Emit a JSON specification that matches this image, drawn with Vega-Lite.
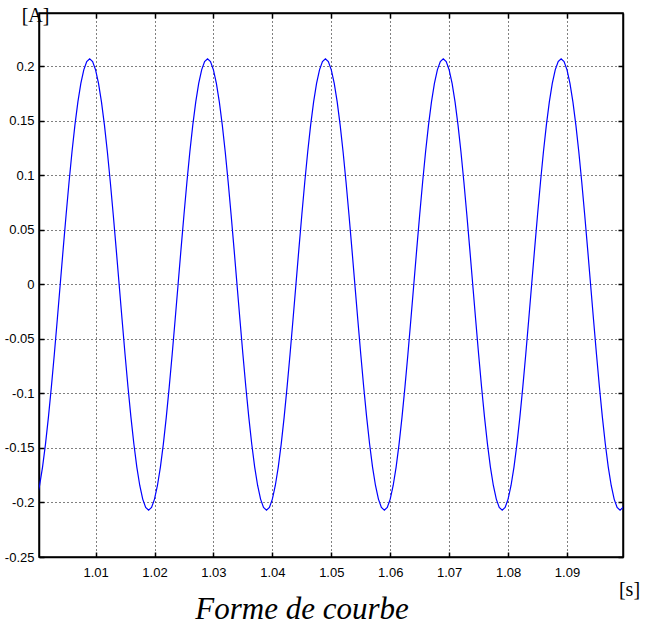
{
  "$schema": "https://vega.github.io/schema/vega-lite/v6.json",
  "autosize": "none",
  "width": 584,
  "height": 544,
  "padding": {"left": 39, "top": 13, "right": 22, "bottom": 70},
  "background": "white",
  "config": {
    "view": {"stroke": "black", "strokeWidth": 1.5},
    "axis": {
      "labelFont": "Liberation Sans",
      "labelFontSize": 13,
      "labelColor": "black",
      "domainColor": "black",
      "domainWidth": 1.5,
      "tickColor": "black",
      "tickWidth": 1.5,
      "gridColor": "black",
      "gridDash": [1, 3],
      "gridOpacity": 1,
      "gridWidth": 1
    }
  },
  "title": {
    "text": "Forme de courbe",
    "orient": "bottom",
    "anchor": "middle",
    "font": "Liberation Serif",
    "fontStyle": "italic",
    "fontWeight": "normal",
    "fontSize": 31,
    "color": "black",
    "offset": -4,
    "dx": -29
  },
  "data": {
    "values": [
      {"t": 1.0000, "a": -0.1969}, {"t": 1.0005, "a": -0.1844}, {"t": 1.0010, "a": -0.1675}, {"t": 1.0015, "a": -0.1464},
      {"t": 1.0020, "a": -0.1217}, {"t": 1.0025, "a": -0.0940}, {"t": 1.0030, "a": -0.0640}, {"t": 1.0035, "a": -0.0324},
      {"t": 1.0040, "a": 0}, {"t": 1.0045, "a": 0.0324}, {"t": 1.0050, "a": 0.0640}, {"t": 1.0055, "a": 0.0940},
      {"t": 1.0060, "a": 0.1217}, {"t": 1.0065, "a": 0.1464}, {"t": 1.0070, "a": 0.1675}, {"t": 1.0075, "a": 0.1844},
      {"t": 1.0080, "a": 0.1969}, {"t": 1.0085, "a": 0.2045}, {"t": 1.0090, "a": 0.2070}, {"t": 1.0095, "a": 0.2045},
      {"t": 1.0100, "a": 0.1969}, {"t": 1.0105, "a": 0.1844}, {"t": 1.0110, "a": 0.1675}, {"t": 1.0115, "a": 0.1464},
      {"t": 1.0120, "a": 0.1217}, {"t": 1.0125, "a": 0.0940}, {"t": 1.0130, "a": 0.0640}, {"t": 1.0135, "a": 0.0324},
      {"t": 1.0140, "a": 0}, {"t": 1.0145, "a": -0.0324}, {"t": 1.0150, "a": -0.0640}, {"t": 1.0155, "a": -0.0940},
      {"t": 1.0160, "a": -0.1217}, {"t": 1.0165, "a": -0.1464}, {"t": 1.0170, "a": -0.1675}, {"t": 1.0175, "a": -0.1844},
      {"t": 1.0180, "a": -0.1969}, {"t": 1.0185, "a": -0.2045}, {"t": 1.0190, "a": -0.2070}, {"t": 1.0195, "a": -0.2045},
      {"t": 1.0200, "a": -0.1969}, {"t": 1.0205, "a": -0.1844}, {"t": 1.0210, "a": -0.1675}, {"t": 1.0215, "a": -0.1464},
      {"t": 1.0220, "a": -0.1217}, {"t": 1.0225, "a": -0.0940}, {"t": 1.0230, "a": -0.0640}, {"t": 1.0235, "a": -0.0324},
      {"t": 1.0240, "a": 0}, {"t": 1.0245, "a": 0.0324}, {"t": 1.0250, "a": 0.0640}, {"t": 1.0255, "a": 0.0940},
      {"t": 1.0260, "a": 0.1217}, {"t": 1.0265, "a": 0.1464}, {"t": 1.0270, "a": 0.1675}, {"t": 1.0275, "a": 0.1844},
      {"t": 1.0280, "a": 0.1969}, {"t": 1.0285, "a": 0.2045}, {"t": 1.0290, "a": 0.2070}, {"t": 1.0295, "a": 0.2045},
      {"t": 1.0300, "a": 0.1969}, {"t": 1.0305, "a": 0.1844}, {"t": 1.0310, "a": 0.1675}, {"t": 1.0315, "a": 0.1464},
      {"t": 1.0320, "a": 0.1217}, {"t": 1.0325, "a": 0.0940}, {"t": 1.0330, "a": 0.0640}, {"t": 1.0335, "a": 0.0324},
      {"t": 1.0340, "a": 0}, {"t": 1.0345, "a": -0.0324}, {"t": 1.0350, "a": -0.0640}, {"t": 1.0355, "a": -0.0940},
      {"t": 1.0360, "a": -0.1217}, {"t": 1.0365, "a": -0.1464}, {"t": 1.0370, "a": -0.1675}, {"t": 1.0375, "a": -0.1844},
      {"t": 1.0380, "a": -0.1969}, {"t": 1.0385, "a": -0.2045}, {"t": 1.0390, "a": -0.2070}, {"t": 1.0395, "a": -0.2045},
      {"t": 1.0400, "a": -0.1969}, {"t": 1.0405, "a": -0.1844}, {"t": 1.0410, "a": -0.1675}, {"t": 1.0415, "a": -0.1464},
      {"t": 1.0420, "a": -0.1217}, {"t": 1.0425, "a": -0.0940}, {"t": 1.0430, "a": -0.0640}, {"t": 1.0435, "a": -0.0324},
      {"t": 1.0440, "a": 0}, {"t": 1.0445, "a": 0.0324}, {"t": 1.0450, "a": 0.0640}, {"t": 1.0455, "a": 0.0940},
      {"t": 1.0460, "a": 0.1217}, {"t": 1.0465, "a": 0.1464}, {"t": 1.0470, "a": 0.1675}, {"t": 1.0475, "a": 0.1844},
      {"t": 1.0480, "a": 0.1969}, {"t": 1.0485, "a": 0.2045}, {"t": 1.0490, "a": 0.2070}, {"t": 1.0495, "a": 0.2045},
      {"t": 1.0500, "a": 0.1969}, {"t": 1.0505, "a": 0.1844}, {"t": 1.0510, "a": 0.1675}, {"t": 1.0515, "a": 0.1464},
      {"t": 1.0520, "a": 0.1217}, {"t": 1.0525, "a": 0.0940}, {"t": 1.0530, "a": 0.0640}, {"t": 1.0535, "a": 0.0324},
      {"t": 1.0540, "a": 0}, {"t": 1.0545, "a": -0.0324}, {"t": 1.0550, "a": -0.0640}, {"t": 1.0555, "a": -0.0940},
      {"t": 1.0560, "a": -0.1217}, {"t": 1.0565, "a": -0.1464}, {"t": 1.0570, "a": -0.1675}, {"t": 1.0575, "a": -0.1844},
      {"t": 1.0580, "a": -0.1969}, {"t": 1.0585, "a": -0.2045}, {"t": 1.0590, "a": -0.2070}, {"t": 1.0595, "a": -0.2045},
      {"t": 1.0600, "a": -0.1969}, {"t": 1.0605, "a": -0.1844}, {"t": 1.0610, "a": -0.1675}, {"t": 1.0615, "a": -0.1464},
      {"t": 1.0620, "a": -0.1217}, {"t": 1.0625, "a": -0.0940}, {"t": 1.0630, "a": -0.0640}, {"t": 1.0635, "a": -0.0324},
      {"t": 1.0640, "a": 0}, {"t": 1.0645, "a": 0.0324}, {"t": 1.0650, "a": 0.0640}, {"t": 1.0655, "a": 0.0940},
      {"t": 1.0660, "a": 0.1217}, {"t": 1.0665, "a": 0.1464}, {"t": 1.0670, "a": 0.1675}, {"t": 1.0675, "a": 0.1844},
      {"t": 1.0680, "a": 0.1969}, {"t": 1.0685, "a": 0.2045}, {"t": 1.0690, "a": 0.2070}, {"t": 1.0695, "a": 0.2045},
      {"t": 1.0700, "a": 0.1969}, {"t": 1.0705, "a": 0.1844}, {"t": 1.0710, "a": 0.1675}, {"t": 1.0715, "a": 0.1464},
      {"t": 1.0720, "a": 0.1217}, {"t": 1.0725, "a": 0.0940}, {"t": 1.0730, "a": 0.0640}, {"t": 1.0735, "a": 0.0324},
      {"t": 1.0740, "a": 0}, {"t": 1.0745, "a": -0.0324}, {"t": 1.0750, "a": -0.0640}, {"t": 1.0755, "a": -0.0940},
      {"t": 1.0760, "a": -0.1217}, {"t": 1.0765, "a": -0.1464}, {"t": 1.0770, "a": -0.1675}, {"t": 1.0775, "a": -0.1844},
      {"t": 1.0780, "a": -0.1969}, {"t": 1.0785, "a": -0.2045}, {"t": 1.0790, "a": -0.2070}, {"t": 1.0795, "a": -0.2045},
      {"t": 1.0800, "a": -0.1969}, {"t": 1.0805, "a": -0.1844}, {"t": 1.0810, "a": -0.1675}, {"t": 1.0815, "a": -0.1464},
      {"t": 1.0820, "a": -0.1217}, {"t": 1.0825, "a": -0.0940}, {"t": 1.0830, "a": -0.0640}, {"t": 1.0835, "a": -0.0324},
      {"t": 1.0840, "a": 0}, {"t": 1.0845, "a": 0.0324}, {"t": 1.0850, "a": 0.0640}, {"t": 1.0855, "a": 0.0940},
      {"t": 1.0860, "a": 0.1217}, {"t": 1.0865, "a": 0.1464}, {"t": 1.0870, "a": 0.1675}, {"t": 1.0875, "a": 0.1844},
      {"t": 1.0880, "a": 0.1969}, {"t": 1.0885, "a": 0.2045}, {"t": 1.0890, "a": 0.2070}, {"t": 1.0895, "a": 0.2045},
      {"t": 1.0900, "a": 0.1969}, {"t": 1.0905, "a": 0.1844}, {"t": 1.0910, "a": 0.1675}, {"t": 1.0915, "a": 0.1464},
      {"t": 1.0920, "a": 0.1217}, {"t": 1.0925, "a": 0.0940}, {"t": 1.0930, "a": 0.0640}, {"t": 1.0935, "a": 0.0324},
      {"t": 1.0940, "a": 0}, {"t": 1.0945, "a": -0.0324}, {"t": 1.0950, "a": -0.0640}, {"t": 1.0955, "a": -0.0940},
      {"t": 1.0960, "a": -0.1217}, {"t": 1.0965, "a": -0.1464}, {"t": 1.0970, "a": -0.1675}, {"t": 1.0975, "a": -0.1844},
      {"t": 1.0980, "a": -0.1969}, {"t": 1.0985, "a": -0.2045}, {"t": 1.0990, "a": -0.2070}, {"t": 1.0995, "a": -0.2045},
      {"t": 1.1000, "a": -0.1969}
    ]
  },
  "resolve": {"axis": {"x": "independent", "y": "independent"}},
  "layer": [
    {
      "mark": {"type": "line", "color": "#0000ff", "strokeWidth": 1.2, "clip": true},
      "encoding": {
        "x": {
          "field": "t", "type": "quantitative",
          "scale": {"domain": [1.0004, 1.0995], "nice": false, "zero": false},
          "axis": {
            "values": [1.01, 1.02, 1.03, 1.04, 1.05, 1.06, 1.07, 1.08, 1.09],
            "labelExpr": "toString(round(datum.value*100)/100)",
            "title": "[s]",
            "titleFont": "Liberation Serif",
            "titleFontSize": 20,
            "titleFontWeight": "normal",
            "titleColor": "black",
            "titleAnchor": "start",
            "titleAlign": "center",
            "titleBaseline": "alphabetic",
            "titleX": 590,
            "titleY": 38,
            "tickSize": -5,
            "labelPadding": 14,
            "grid": true
          }
        },
        "y": {
          "field": "a", "type": "quantitative",
          "scale": {"domain": [-0.25, 0.249], "nice": false, "zero": false},
          "axis": {
            "values": [-0.25, -0.2, -0.15, -0.1, -0.05, 0, 0.05, 0.1, 0.15, 0.2],
            "labelExpr": "toString(round(datum.value*100)/100)",
            "title": "[A]",
            "titleFont": "Liberation Serif",
            "titleFontSize": 20,
            "titleFontWeight": "normal",
            "titleColor": "black",
            "titleAngle": 0,
            "titleAlign": "center",
            "titleBaseline": "alphabetic",
            "titleX": -4,
            "titleY": 8,
            "tickSize": -5,
            "labelPadding": 10,
            "grid": true
          }
        }
      }
    },
    {
      "mark": {"type": "line", "opacity": 0, "clip": true},
      "encoding": {
        "x": {
          "field": "t", "type": "quantitative",
          "axis": {
            "orient": "top",
            "values": [1.01, 1.02, 1.03, 1.04, 1.05, 1.06, 1.07, 1.08, 1.09],
            "labels": false,
            "title": null,
            "grid": false,
            "tickSize": -5
          }
        },
        "y": {
          "field": "a", "type": "quantitative",
          "axis": {
            "orient": "right",
            "values": [-0.25, -0.2, -0.15, -0.1, -0.05, 0, 0.05, 0.1, 0.15, 0.2],
            "labels": false,
            "title": null,
            "grid": false,
            "tickSize": -5
          }
        }
      }
    }
  ]
}
